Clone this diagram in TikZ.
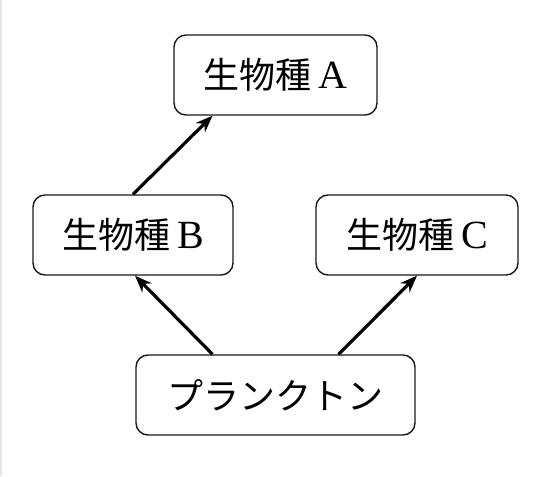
\documentclass[tikz,border=0pt]{standalone}
\usepackage{fontspec}
\setmainfont{Liberation Serif}
\newfontfamily\jp{Noto Sans CJK JP}
\usetikzlibrary{arrows.meta}
\definecolor{edgegray}{gray}{0.9}
\tikzset{
  box/.style={draw=black!90, line width=1.4pt, rounded corners=12pt, minimum height=80pt, inner sep=0pt, font=\fontsize{36pt}{40pt}\selectfont},
  arr/.style={line width=3.2pt, -{Stealth[length=17pt,width=13pt]}}
}
\begin{document}
\begin{tikzpicture}[x=1pt,y=1pt]
\useasboundingbox (0,0) rectangle (548,-476);
\draw[edgegray, line width=1.5pt] (0.75,0) -- (0.75,-476);
\node[box, minimum width=203pt] (A) at (275.5,-75) {{\jp 生物種}\hspace{7pt}\fontsize{40pt}{40pt}\selectfont A};
\node[box, minimum width=200pt] (B) at (133,-235) {{\jp 生物種}\hspace{7pt}\fontsize{40pt}{40pt}\selectfont B};
\node[box, minimum width=202pt] (C) at (417,-235) {{\jp 生物種}\hspace{7pt}\fontsize{40pt}{40pt}\selectfont C};
\node[box, minimum width=279pt] (P) at (275.5,-395) {\jp プランクトン};
\draw[arr] (B.north) -- ([xshift=-63pt]A.south);
\draw[arr] ([xshift=-63pt]P.north) -- ([xshift=2pt]B.south);
\draw[arr] ([xshift=63pt]P.north) -- (C.south);
\end{tikzpicture}
\end{document}
